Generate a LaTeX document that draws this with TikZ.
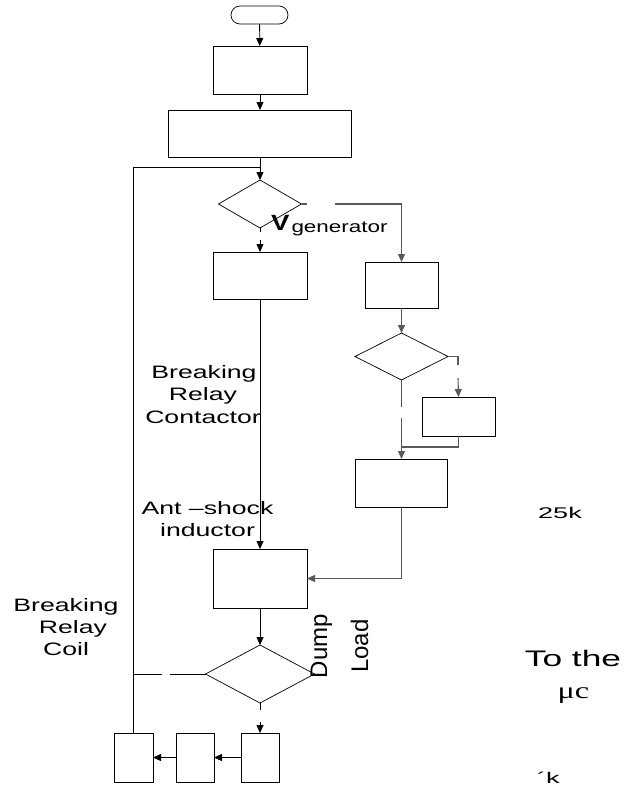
\documentclass[tikz,border=0pt]{standalone}
\usepackage{fontspec}
\setmainfont{Liberation Sans}
\newfontfamily\lblfont[FakeStretch=1.48]{Liberation Sans}
\newfontfamily\genfont[FakeStretch=1.36]{Liberation Sans}
\newfontfamily\vfont[FakeStretch=1.25]{Liberation Sans Bold}
\newfontfamily\kfont[FakeStretch=1.75]{Liberation Sans}
\newfontfamily\tofont[FakeStretch=1.57]{Liberation Sans}
\newfontfamily\mufont[FakeStretch=1.4]{Liberation Serif}
\usetikzlibrary{shapes.geometric,arrows.meta}
\tikzset{
  boxnode/.style={draw=black, line width=0.7pt, rectangle, inner sep=0pt, outer sep=0pt},
  termnode/.style={draw=black, line width=0.7pt, rectangle, rounded corners=9pt, inner sep=0pt, outer sep=0pt},
  decnode/.style={draw=black, line width=0.7pt, diamond, inner sep=0pt, outer sep=0pt},
  flow/.style={draw=black, line width=0.8pt},
  flowarr/.style={flow, -{Triangle[length=8pt,width=7pt]}},
  side/.style={draw=black!65, line width=1.1pt},
  sidearr/.style={side, -{Triangle[length=8pt,width=7pt]}},
  lbl/.style={inner sep=0pt, outer sep=0pt, anchor=base, font=\lblfont\fontsize{18pt}{22.5pt}\selectfont},
}
\begin{document}
\begin{tikzpicture}[x=1pt, y=-1pt]
\useasboundingbox (0,0) rectangle (635,785);

% main column
\node[termnode, minimum width=57pt, minimum height=18pt] (start) at (259.5,15) {};
\node[boxnode, minimum width=94pt, minimum height=48pt] (b1) at (260,70) {};
\node[boxnode, minimum width=183pt, minimum height=47pt] (b2) at (260,133.5) {};
\node[decnode, minimum width=83pt, minimum height=48pt] (d1) at (260,204) {};
\node[boxnode, minimum width=94pt, minimum height=47pt] (b3) at (260,275.5) {};
\node[boxnode, minimum width=94pt, minimum height=59pt] (b4) at (260,578.5) {};
\node[decnode, minimum width=109pt, minimum height=58pt] (d3) at (260,674) {};

% right-hand branch
\node[boxnode, minimum width=73pt, minimum height=46pt] (r1) at (401.5,285) {};
\node[decnode, minimum width=93pt, minimum height=47pt] (d2) at (401.5,356.5) {};
\node[boxnode, minimum width=73pt, minimum height=39pt] (r2) at (458.5,416.5) {};
\node[boxnode, minimum width=92pt, minimum height=48pt] (r3) at (401.5,483) {};

% bottom row
\node[boxnode, minimum width=39pt, minimum height=49pt] (c1) at (133.5,757.5) {};
\node[boxnode, minimum width=38pt, minimum height=49pt] (c2) at (195,757.5) {};
\node[boxnode, minimum width=38pt, minimum height=49pt] (c3) at (260,757.5) {};

% free ends of the broken connectors
\coordinate (loopj) at (260,167);
\coordinate (d1ra) at (307,204);
\coordinate (d1rb) at (335,204);
\coordinate (d1da) at (260,232);
\coordinate (d1db) at (260,240);
\coordinate (d2ra) at (458,365);
\coordinate (d2rb) at (458,378);
\coordinate (d2da) at (401.5,407);
\coordinate (d2db) at (401.5,418);
\coordinate (r2j) at (401.5,447);
\coordinate (d3la) at (170,674);
\coordinate (d3lb) at (162,674);
\coordinate (d3lc) at (133.5,674);
\coordinate (d3da) at (260,710);
\coordinate (d3db) at (260,722);

% main flow
\draw[flowarr] (start) -- (b1);
\draw[flowarr] (b1) -- (b2);
\draw[flowarr] (b2) -- (d1);
\draw[flow] (c1.north) |- (loopj);
\draw[flow] (d1.south) -- (d1da);
\draw[flowarr] (d1db) -- (b3.north);
\draw[flowarr] (b3) -- (b4);
\draw[flowarr] (b4) -- (d3);
\draw[flow] (d3.west) -- (d3la);
\draw[flow] (d3lb) -- (d3lc);
\draw[flow] (d3.south) -- (d3da);
\draw[flowarr] (d3db) -- (c3.north);
\draw[flowarr] (c3) -- (c2);
\draw[flowarr] (c2) -- (c1);

% right-hand branch flow
\draw[side] (d1.east) -- (d1ra);
\draw[sidearr] (d1rb) -| (r1.north);
\draw[sidearr] (r1) -- (d2);
\draw[side] (d2.east) -| (d2ra);
\draw[sidearr] (d2rb) -- (r2.north);
\draw[side] (d2.south) -- (d2da);
\draw[sidearr] (d2db) -- (r3.north);
\draw[side] (r2.south) |- (r2j);
\draw[sidearr] (r3.south) |- (b4.east);

% labels
\node[lbl, anchor=base west, font=\vfont\fontsize{22pt}{22pt}\selectfont] (vlab) at (271,230) {V};
\node[lbl, anchor=base west, font=\genfont\fontsize{16.5pt}{16.5pt}\selectfont] (glab) at (291.5,232) {generator};

\node[lbl] (brc1) at (204,378) {Breaking};
\node[lbl] (brc2) at (203,400.5) {Relay};
\node[lbl] (brc3) at (203,423) {Contactor};

\node[lbl] (ant1) at (207.5,514) {Ant –shock};
\node[lbl] (ant2) at (207.5,536) {inductor};

\node[lbl] (coil1) at (66,611) {Breaking};
\node[lbl] (coil2) at (73,633) {Relay};
\node[lbl] (coil3) at (66,655) {Coil};

\node[lbl, rotate=90, font=\fontsize{24pt}{24pt}\selectfont] (dump) at (327,646) {Dump};
\node[lbl, rotate=90, font=\fontsize{24pt}{24pt}\selectfont] (load) at (368,646) {Load};

\node[lbl, font=\kfont\fontsize{15.5pt}{15.5pt}\selectfont] (res1) at (560,518.5) {25k};
\node[lbl, font=\tofont\fontsize{22.5pt}{22.5pt}\selectfont] (tothe) at (573,666) {To the};
\node[lbl, font=\mufont\fontsize{23pt}{23pt}\selectfont] (muc) at (573.5,698) {μc};
\node[lbl, anchor=base west, font=\kfont\fontsize{15.5pt}{15.5pt}\selectfont] (res2) at (537,783) {´k};
\end{tikzpicture}
\end{document}
